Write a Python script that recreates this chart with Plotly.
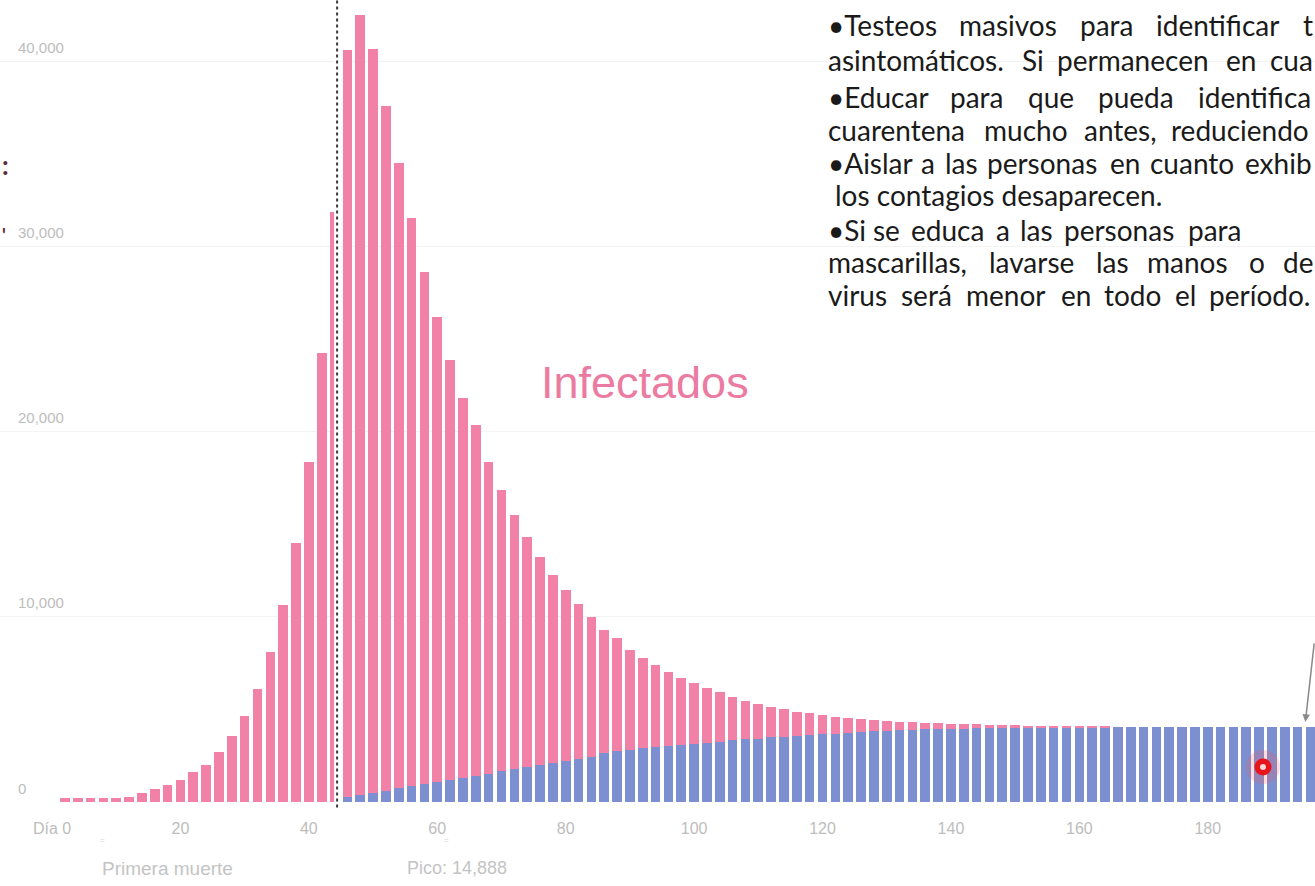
import plotly.graph_objects as go

# ---------------- data ----------------
days = list(range(2, 198, 2))  # one bar every 2 days, day 2 .. day 196

total_cases = [
    200, 200, 210, 220, 240, 260,                  # d2-d12
    490, 720, 900, 1210, 1620, 1980, 2700, 3550,   # d14-d28
    4630, 6130, 8110, 10630, 14000, 18380, 24270,  # d30-d42
    31890, 40650, 42540, 40700, 37620, 34540,      # d44-d54
    31570, 28650, 26210, 23890, 21840, 20380,      # d56-d66
    18380, 16860, 15510, 14320, 13240, 12270,      # d68-d78
    11460, 10700, 10000, 9300, 8860, 8220,         # d80-d90
    7780, 7400, 7030, 6700, 6430, 6160,            # d92-d102
    5950, 5680, 5460, 5300, 5130, 5030,            # d104-d114
    4860, 4810, 4700, 4590, 4540, 4490,            # d116-d126
    4430, 4380, 4320, 4320, 4270, 4270,            # d128-d138
    4220, 4220, 4200, 4160, 4160, 4140,            # d140-d150
    4120, 4100, 4100, 4080, 4080, 4070,            # d152-d162
    4060, 4050, 4050, 4050, 4050, 4050,            # d164-d174
    4050, 4050, 4050, 4050, 4050, 4050,            # d176-d186
    4050, 4050, 4050, 4050, 4050,                  # d188-d196
]

recovered = [
    0, 0, 0, 0, 0, 0,                              # d2-d12
    0, 0, 0, 0, 0, 0, 0, 0,                        # d14-d28
    0, 0, 0, 0, 0, 0, 0,                           # d30-d42
    0, 270, 380, 490, 600, 760,                    # d44-d54
    860, 970, 1080, 1190, 1300, 1400,              # d56-d66
    1510, 1680, 1780, 1890, 2000, 2110,            # d68-d78
    2220, 2320, 2430, 2650, 2750, 2820,            # d80-d90
    2900, 2980, 3040, 3080, 3130, 3190,            # d92-d102
    3250, 3330, 3380, 3430, 3500, 3540,            # d104-d114
    3580, 3620, 3660, 3700, 3740, 3780,            # d116-d126
    3820, 3850, 3880, 3900, 3920, 3940,            # d128-d138
    3960, 3970, 3990, 4000, 4010, 4020,            # d140-d150
    4030, 4040, 4045, 4050, 4050, 4050,            # d152-d162
    4050, 4050, 4050, 4050, 4050, 4050,            # d164-d174
    4050, 4050, 4050, 4050, 4050, 4050,            # d176-d186
    4050, 4050, 4050, 4050, 4050,                  # d188-d196
]

infected_active = [t - r for t, r in zip(total_cases, recovered)]

x_tick_vals = [0, 20, 40, 60, 80, 100, 120, 140, 160, 180]
x_tick_text = ["Día 0", "20", "40", "60", "80", "100", "120", "140", "160", "180"]
y_tick_vals = [0, 10000, 20000, 30000, 40000]
y_tick_text = ["0", "10,000", "20,000", "30,000", "40,000"]

quarantine_day = 44.4
marker_day = [188.6]
marker_value = [1890]

first_death_day = 7.5
peak_label_day = 55.0

slide_lines = [
    "•Testeos masivos para identificar t",
    "asintomáticos. Si permanecen en cua",
    "•Educar para que pueda identifica",
    "cuarentena mucho antes, reduciendo",
    "•Aislar a las personas en cuanto exhib",
    "los contagios desaparecen.",
    "•Si se educa a las personas para",
    "mascarillas, lavarse las manos o de",
    "virus será menor en todo el período.",
]

# ---------------- layout constants ----------------
W, H = 1315, 886
BOTTOM = 84
PLOT_H = H - BOTTOM

PINK = "#f181a7"
BLUE = "#7c8fd0"
GREY_TXT = "#bdbdbd"
TXT_FONT = "Lato"
TXT_SIZE = 28

# text-block geometry (pixels): start, end of last word (None = not justified), centre y
LINE_START = [826, 826, 826, 826, 826, 833, 826, 826, 826]
LINE_END = [1311, 1312, 1312, 1312, 1312, None, 1242, 1312, 1311]
LINE_Y = [25, 60, 97, 130, 163, 195, 230, 262, 295]

# approximate Lato advance widths (em) used to spread justified words
CW = {"a": .50, "b": .565, "c": .46, "d": .565, "e": .52, "f": .34, "g": .505, "h": .56,
      "i": .24, "j": .24, "k": .50, "l": .24, "m": .846, "n": .56, "o": .567, "p": .557,
      "q": .565, "r": .388, "s": .423, "t": .36, "u": .56, "v": .505, "w": .76, "x": .498,
      "y": .505, "z": .45, "á": .50, "é": .52, "í": .24, "ó": .567, ",": .215, ".": .215,
      "•": .45, "T": .58, "E": .55, "A": .68, "S": .525}
K_W = 1.03
MIN_GAP = 7


def est_w(word):
    return sum(CW.get(c, .5) for c in word) * TXT_SIZE * K_W


fig = go.Figure()
fig.add_trace(go.Bar(x=days, y=recovered, marker=dict(color=BLUE, line=dict(width=0)),
                     width=1.5, name="Recuperados", hoverinfo="x+y"))
fig.add_trace(go.Bar(x=days, y=infected_active, marker=dict(color=PINK, line=dict(width=0)),
                     width=1.5, name="Infectados", hoverinfo="x+y"))

fig.add_trace(go.Scatter(x=marker_day, y=marker_value, mode="markers",
                         marker=dict(size=34, color="rgba(255,90,90,0.22)", line=dict(width=0)),
                         hoverinfo="skip", showlegend=False))
fig.add_trace(go.Scatter(x=marker_day, y=marker_value, mode="markers",
                         marker=dict(size=17, color="#e8141c", line=dict(width=0)),
                         hoverinfo="skip", showlegend=False))
fig.add_trace(go.Scatter(x=marker_day, y=marker_value, mode="markers",
                         marker=dict(size=6, color="#ffd6d6", line=dict(width=0)),
                         hoverinfo="skip", showlegend=False))

# quarantine dotted line
fig.add_shape(type="line", xref="x", yref="paper", x0=quarantine_day, x1=quarantine_day,
              y0=-0.007, y1=1, line=dict(color="white", width=6), layer="above")
fig.add_shape(type="line", xref="x", yref="paper", x0=quarantine_day, x1=quarantine_day,
              y0=-0.007, y1=1, line=dict(color="#3a3a3a", width=2, dash="dot"), layer="above")


def px_x(p):
    return p / W


def px_y(p):
    return 1 - p / PLOT_H


ann = []
# y tick labels (drawn at the y-axis values, above each grid line)
for v, t in zip(y_tick_vals, y_tick_text):
    ann.append(dict(x=px_x(16), y=v, xref="paper", yref="y", xanchor="left", yanchor="middle",
                    yshift=14, text=t, showarrow=False,
                    font=dict(family="Liberation Sans, Arial", size=15, color=GREY_TXT)))

ann.append(dict(x=92.4, y=22700, xref="x", yref="y", text="Infectados", showarrow=False,
                font=dict(family="Liberation Sans, Arial", size=45, color="#ec7ba2")))
ann.append(dict(x=first_death_day, y=px_y(868), xref="x", yref="paper", xanchor="left",
                yanchor="middle", text="Primera muerte", showarrow=False,
                font=dict(family="Liberation Sans, Arial", size=19, color="#c4c4c4")))
ann.append(dict(x=peak_label_day, y=px_y(868), xref="x", yref="paper", xanchor="left",
                yanchor="middle", text="Pico: 14,888", showarrow=False,
                font=dict(family="Liberation Sans, Arial", size=18, color="#c4c4c4")))
for d in (first_death_day + 0.4, 61.5):
    ann.append(dict(x=d, y=px_y(847), xref="x", yref="paper", text="=", showarrow=False,
                    font=dict(family="Liberation Sans, Arial", size=8, color="#d2d2d2")))
# arrow on the right
ann.append(dict(x=195.2, y=4330, xref="x", yref="y", text="", showarrow=True,
                arrowhead=2, arrowsize=1, arrowwidth=1.5, arrowcolor="#8a8a8a", ax=9, ay=-80))
# slide artefacts on the left edge
ann.append(dict(x=px_x(0), y=px_y(147), xref="paper", yref="paper", xanchor="left",
                text=":", showarrow=False,
                font=dict(family="Lato", size=26, color="#5e2a35", weight="bold")))
ann.append(dict(x=px_x(0), y=px_y(222), xref="paper", yref="paper", xanchor="left",
                text="'", showarrow=False,
                font=dict(family="Lato", size=18, color="#5e2a35", weight="bold")))

# slide text block: justified lines are spread word by word between start and end
txt_font = dict(family=TXT_FONT, size=TXT_SIZE, color="#1a1a1a")
for line, x0, x1, yy in zip(slide_lines, LINE_START, LINE_END, LINE_Y):
    if x1 is None:
        ann.append(dict(x=px_x(x0), y=px_y(yy), xref="paper", yref="paper", xanchor="left",
                        yanchor="middle", text=line, showarrow=False, font=txt_font))
        continue
    words = line.split(" ")
    widths = [est_w(w) for w in words]
    gap = max(MIN_GAP, (x1 - x0 - sum(widths)) / (len(words) - 1))
    pos = x0
    for i, (w, wd) in enumerate(zip(words, widths)):
        ann.append(dict(x=px_x(pos), y=px_y(yy), xref="paper", yref="paper", xanchor="left",
                        yanchor="middle", text=w, showarrow=False, font=txt_font))
        pos += wd + gap

fig.update_layout(
    width=W, height=H,
    margin=dict(l=0, r=0, t=0, b=BOTTOM, pad=0),
    paper_bgcolor="white", plot_bgcolor="white",
    barmode="stack", bargap=0, showlegend=False,
    annotations=ann,
    xaxis=dict(range=[-8.1, 196.7], tickvals=x_tick_vals, ticktext=x_tick_text,
               showgrid=False, zeroline=False, showline=False, ticks="",
               ticklabelstandoff=15,
               tickfont=dict(family="Liberation Sans, Arial", size=16, color=GREY_TXT)),
    yaxis=dict(range=[0, 43350], tickvals=y_tick_vals, showticklabels=False,
               showgrid=True, gridcolor="#f3f3f3", gridwidth=1, zeroline=False, showline=False,
               ticks=""),
)

fig.write_html("out.html", config={"displayModeBar": False},
               post_script="document.body.style.margin='0';")
